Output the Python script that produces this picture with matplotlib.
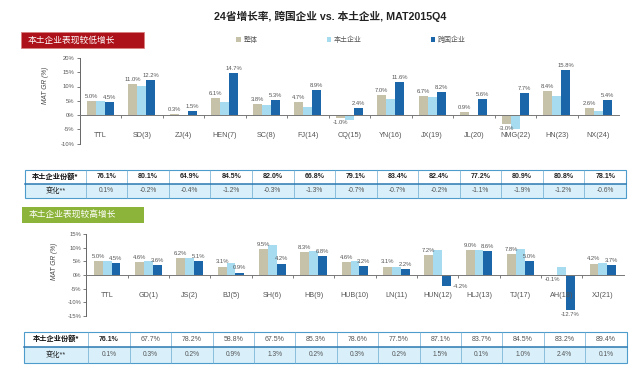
import numpy as np
import matplotlib
matplotlib.use("Agg")
import matplotlib.pyplot as plt
from matplotlib.patches import Rectangle
from matplotlib.ticker import FuncFormatter

plt.rcParams['font.family'] = ['Liberation Sans', 'Noto Sans CJK SC', 'DejaVu Sans']
plt.rcParams['axes.unicode_minus'] = False

W, H = 643, 368

# ---- upper panel: local companies with lower growth
top_cats = ["TTL", "SD(3)", "ZJ(4)", "HEN(7)", "SC(8)", "FJ(14)", "CQ(15)",
            "YN(16)", "JX(19)", "JL(20)", "NMG(22)", "HN(23)", "NX(24)"]
top_total = [5.0, 11.0, 0.3, 6.1, 3.8, 4.7, -1.0, 7.0, 6.7, 0.9, -3.0, 8.4, 2.6]
top_local = [5.0, 10.3, 0.1, 4.4, 3.5, 2.7, -1.8, 5.6, 6.4, -0.2, -5.0, 6.7, 1.5]
top_mnc = [4.5, 12.2, 1.5, 14.7, 5.3, 8.9, 2.4, 11.6, 8.2, 5.6, 7.7, 15.8, 5.4]
top_share = [76.1, 80.1, 64.9, 84.5, 82.0, 66.8, 79.1, 83.4, 82.4, 77.2, 80.9, 80.8, 78.1]
top_change = [0.1, -0.2, -0.4, -1.2, -0.3, -1.3, -0.7, -0.7, -0.2, -1.1, -1.9, -1.2, -0.6]

# ---- lower panel: local companies with higher growth
bot_cats = ["TTL", "GD(1)", "JS(2)", "BJ(5)", "SH(6)", "HB(9)", "HUB(10)",
            "LN(11)", "HUN(12)", "HLJ(13)", "TJ(17)", "AH(18)", "XJ(21)"]
bot_total = [5.0, 4.6, 6.2, 3.1, 9.5, 8.3, 4.6, 3.1, 7.2, 9.0, 7.8, -0.1, 4.2]
bot_local = [5.0, 5.2, 6.2, 4.5, 11.0, 8.8, 5.2, 3.0, 9.1, 9.0, 9.4, 3.0, 4.3]
bot_mnc = [4.5, 3.6, 5.1, 0.9, 4.2, 6.8, 3.2, 2.2, -4.2, 8.6, 5.0, -12.7, 3.7]
bot_share = [76.1, 67.7, 78.2, 58.8, 67.5, 85.3, 78.6, 77.5, 87.1, 83.7, 84.5, 83.2, 89.4]
bot_change = [0.1, 0.3, 0.2, 0.9, 1.3, 0.2, 0.3, 0.2, 1.5, 0.1, 1.0, 2.4, 0.1]

series_names = ["整体", "本土企业", "跨国企业"]
colors = ["#c6c2aa", "#a6dbf0", "#1a66a8"]


def px_axes(fig, x0, y0, x1, y1):
    return fig.add_axes([x0 / W, 1 - y1 / H, (x1 - x0) / W, (y1 - y0) / H])


def label_bars(ax, bars, vals):
    for b, v in zip(bars, vals):
        x = b.get_x() + b.get_width() / 2
        if v >= 0:
            ax.annotate(f"{v:.1f}%", (x, v), xytext=(0, 1.5), textcoords="offset points",
                        ha="center", va="bottom", fontsize=4.2, color="#555555")
        elif -8 < v < -4:
            # would sit on the category label row, so put it beside the bar
            ax.annotate(f"{v:.1f}%", (x + b.get_width() / 2, v), xytext=(1, 0),
                        textcoords="offset points", ha="left", va="center",
                        fontsize=4.2, color="#555555")
        else:
            ax.annotate(f"{v:.1f}%", (x, v), xytext=(0, -1.5), textcoords="offset points",
                        ha="center", va="top", fontsize=4.2, color="#555555")


def bar_panel(ax, cats, total, local, mnc, ylim, ylab_xy):
    x = np.arange(len(cats))
    w = 0.215
    bars = []
    for k, vals in enumerate([total, local, mnc]):
        bars.append(ax.bar(x + (k - 1) * w, vals, w, color=colors[k], label=series_names[k]))
    label_bars(ax, bars[0], total)
    label_bars(ax, bars[2], mnc)

    ax.set_xlim(-0.5, len(cats) - 0.5)
    ax.set_ylim(*ylim)
    ax.set_yticks(np.arange(ylim[0], ylim[1] + 1, 5))
    ax.yaxis.set_major_formatter(FuncFormatter(lambda v, p: f"{v:.0f}%"))
    ax.tick_params(axis="y", labelsize=4.2, length=2, width=0.6, pad=1.5,
                   colors="#666666", labelcolor="#555555")

    ax.spines["bottom"].set_position(("data", 0))
    for s in ["top", "right"]:
        ax.spines[s].set_visible(False)
    ax.spines["left"].set_color("#666666")
    ax.spines["left"].set_linewidth(0.7)
    ax.spines["bottom"].set_color("#777777")
    ax.spines["bottom"].set_linewidth(0.7)

    ax.set_xticks(x)
    ax.set_xticklabels(cats)
    ax.set_xticks(np.arange(0.5, len(cats) - 1, 1), minor=True)
    ax.tick_params(axis="x", which="major", length=0, pad=12, labelsize=5.2, labelcolor="#555555")
    ax.tick_params(axis="x", which="minor", length=2, width=0.6, color="#666666")

    ax.set_ylabel("MAT GR (%)", fontsize=4.8, style="italic", color="#444444")
    ax.yaxis.set_label_coords(*ylab_xy)
    ax.patch.set_alpha(0)
    return bars


def draw_table(ov, x0, xh, x1, y0, ym, y1, share, change, bold_all):
    n = len(share)
    cw = (x1 - xh) / n
    edges = [x0, xh] + [xh + cw * (i + 1) for i in range(n)]
    ov.add_patch(Rectangle((x0, ym), x1 - x0, y1 - ym, facecolor="#d9f0fa", edgecolor="none"))
    for xe in edges[1:-1]:
        ov.plot([xe, xe], [y0, y1], color="#6aaad0", lw=0.5)
    ov.add_patch(Rectangle((x0, y0), x1 - x0, y1 - y0, facecolor="none",
                           edgecolor="#4d9ccb", lw=0.8))
    ov.plot([x0, x1], [ym, ym], color="#2a78b0", lw=1.1)
    r1 = (y0 + ym) / 2
    r2 = (ym + y1) / 2
    ov.text((x0 + xh) / 2, r1, "本土企业份额*", ha="center", va="center",
            fontsize=5.2, weight="bold", color="#111111")
    ov.text((x0 + xh) / 2, r2, "变化**", ha="center", va="center",
            fontsize=5.2, color="#222222")
    for i in range(n):
        cx = (edges[i + 1] + edges[i + 2]) / 2
        bold = bold_all or i == 0
        ov.text(cx, r1, f"{share[i]:.1f}%", ha="center", va="center", fontsize=5,
                weight="bold" if bold else "normal",
                color="#222222" if bold else "#555555")
        ov.text(cx, r2, f"{change[i]:.1f}%", ha="center", va="center", fontsize=4.8,
                color="#555555")


fig = plt.figure(figsize=(W / 100, H / 100), dpi=100)
fig.patch.set_facecolor("white")

ax1 = px_axes(fig, 79.5, 58, 619, 143.5)
bars = bar_panel(ax1, top_cats, top_total, top_local, top_mnc, (-10, 20), (-0.057, 0.68))

ax2 = px_axes(fig, 86.4, 234, 623.6, 316)
bar_panel(ax2, bot_cats, bot_total, bot_local, bot_mnc, (-15, 15), (-0.053, 0.67))

# overlay in pixel coordinates for title, banners and tables
ov = fig.add_axes([0, 0, 1, 1])
ov.set_xlim(0, W)
ov.set_ylim(H, 0)
ov.axis("off")

ov.text(330, 16, "24省增长率, 跨国企业 vs. 本土企业, MAT2015Q4", ha="center", va="center",
        fontsize=7.7, weight="bold", color="#222222")

ov.add_patch(Rectangle((21, 32), 123, 16, facecolor="#ad1119", edgecolor="#d98080", lw=0.6))
ov.text(28, 40, "本土企业表现较低增长", ha="left", va="center", fontsize=6.3, color="white")
ov.add_patch(Rectangle((22, 207), 122, 16, facecolor="#8db43a", edgecolor="none"))
ov.text(29, 215, "本土企业表现较高增长", ha="left", va="center", fontsize=6.3, color="white")

draw_table(ov, 25, 85.7, 626, 170, 184, 198, top_share, top_change, True)
draw_table(ov, 24, 88.3, 626.7, 332, 347, 363, bot_share, bot_change, False)

fig.legend(handles=bars, labels=series_names, loc="center left",
           bbox_to_anchor=(233 / W, 1 - 40 / H), ncol=3, frameon=False, fontsize=5,
           handlelength=0.6, handleheight=0.6, handletextpad=0.4, columnspacing=10,
           borderpad=0, labelcolor="#555555")

fig.savefig("out.png", dpi=100, facecolor="white")
